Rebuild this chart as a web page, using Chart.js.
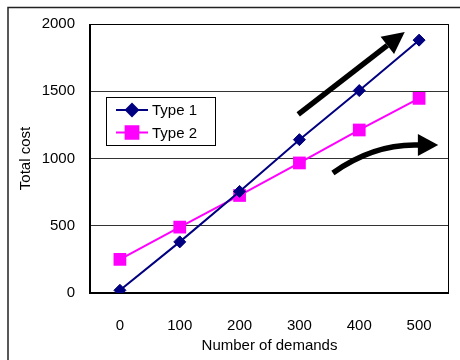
<!DOCTYPE html>
<html><head><meta charset="utf-8">
<script src="https://cdn.jsdelivr.net/npm/chart.js@4"></script>
<style>html,body{margin:0;padding:0;background:#fff;overflow:hidden}#wrap{position:relative;width:460px;height:360px}</style>
</head><body><div id="wrap"><canvas id="c" width="460" height="360"></canvas></div>
<script>
const categories = ['0','100','200','300','400','500'];
const type1 = [20, 380, 755, 1140, 1505, 1880];
const type2 = [250, 490, 725, 967, 1212, 1447];
const yTicks = [0, 500, 1000, 1500, 2000];
const seriesNames = ['Type 1', 'Type 2'];
// decorative arrows in (category index, value) space
const straightArrow = [[2.98, 1328], [4.76, 1941]];
const curvedArrow = [[3.56, 893], [4.26, 1114], [4.98, 1100], [5.32, 1100]];

const FONT = '"Liberation Sans", Arial, sans-serif';
const FS = 15;

const decor = {
  id: 'decor',
  beforeDraw(chart) {
    const ctx = chart.ctx;
    ctx.save();
    ctx.fillStyle = '#fff';
    ctx.fillRect(0, 0, chart.width, chart.height);
    ctx.strokeStyle = '#222';
    ctx.lineWidth = 1.5;
    ctx.beginPath();
    ctx.moveTo(8, 360); ctx.lineTo(8, 7.5); ctx.lineTo(460, 7.5);
    ctx.stroke();
    ctx.restore();
  },
  beforeDatasetsDraw(chart) {
    const {ctx, chartArea: a} = chart;
    ctx.save();
    ctx.strokeStyle = '#000';
    ctx.lineWidth = 1;
    ctx.beginPath();
    ctx.moveTo(a.left, a.top + 0.5); ctx.lineTo(a.right - 0.5, a.top + 0.5); ctx.lineTo(a.right - 0.5, a.bottom);
    ctx.stroke();
    ctx.lineWidth = 2;
    ctx.beginPath();
    ctx.moveTo(a.left, a.top); ctx.lineTo(a.left, a.bottom); ctx.lineTo(a.right, a.bottom);
    ctx.stroke();
    ctx.restore();
  },
  afterDraw(chart) {
    const {ctx, chartArea: a, scales} = chart;
    const px = p => [scales.x.getPixelForValue(p[0]), scales.y.getPixelForValue(p[1])];
    ctx.save();
    ctx.fillStyle = '#000';
    ctx.strokeStyle = '#000';
    ctx.lineWidth = 5.5;
    // straight arrow
    const [s0, s1] = straightArrow.map(px);
    const ang = Math.atan2(s1[1] - s0[1], s1[0] - s0[0]);
    const hl = 22, hw = 11;
    const bx = s1[0] - hl * Math.cos(ang), by = s1[1] - hl * Math.sin(ang);
    ctx.beginPath(); ctx.moveTo(s0[0], s0[1]); ctx.lineTo(bx, by); ctx.stroke();
    ctx.beginPath();
    ctx.moveTo(s1[0], s1[1]);
    ctx.lineTo(bx + hw * Math.sin(ang), by - hw * Math.cos(ang));
    ctx.lineTo(bx - hw * Math.sin(ang), by + hw * Math.cos(ang));
    ctx.closePath(); ctx.fill();
    // curved arrow
    const [c0, c1, c2, c3] = curvedArrow.map(px);
    ctx.beginPath(); ctx.moveTo(c0[0], c0[1]); ctx.quadraticCurveTo(c1[0], c1[1], c2[0] + 2, c2[1]); ctx.stroke();
    ctx.beginPath();
    ctx.moveTo(c3[0], c3[1]);
    ctx.lineTo(c2[0], c2[1] - 11);
    ctx.lineTo(c2[0], c2[1] + 11);
    ctx.closePath(); ctx.fill();

    // legend
    const lx = a.left + 16, ly = 97, lw = 109, lh = 48;
    ctx.fillStyle = '#fff';
    ctx.fillRect(lx, ly, lw, lh);
    ctx.lineWidth = 1;
    ctx.strokeStyle = '#000';
    ctx.strokeRect(lx + 0.5, ly + 0.5, lw, lh);
    chart.data.datasets.forEach((ds, i) => {
      const y = ly + 13 + i * 22.5;
      ctx.strokeStyle = ds.borderColor;
      ctx.lineWidth = 2;
      ctx.beginPath(); ctx.moveTo(lx + 10, y); ctx.lineTo(lx + 42, y); ctx.stroke();
      Chart.helpers.drawPoint(ctx, {pointStyle: ds.pointStyle, radius: ds.pointRadius, borderWidth: 1, rotation: 0}, lx + 26, y);
      ctx.fillStyle = ds.pointBackgroundColor;
      ctx.strokeStyle = ds.pointBorderColor;
      ctx.fill();
      ctx.fillStyle = '#000';
      ctx.font = FS + 'px ' + FONT;
      ctx.textBaseline = 'middle';
      ctx.textAlign = 'left';
      ctx.fillText(ds.label, lx + 46, y + 1);
    });
    ctx.restore();
  }
};

new Chart(document.getElementById('c'), {
  type: 'line',
  data: {
    labels: categories,
    datasets: [
      {label: seriesNames[0], data: type1, borderColor: '#000080', backgroundColor: '#000080',
       pointBackgroundColor: '#000080', pointBorderColor: '#000080', borderWidth: 2,
       pointStyle: 'rectRot', pointRadius: 6, pointBorderWidth: 1, order: 1},
      {label: seriesNames[1], data: type2, borderColor: '#FF00FF', backgroundColor: '#FF00FF',
       pointBackgroundColor: '#FF00FF', pointBorderColor: '#FF00FF', borderWidth: 2,
       pointStyle: 'rect', pointRadius: 9, pointBorderWidth: 0, order: 2}
    ]
  },
  options: {
    responsive: false,
    animation: false,
    layout: {padding: {left: 0, top: 22, right: 11, bottom: 0}},
    plugins: {legend: {display: false}, tooltip: {enabled: false}},
    scales: {
      x: {
        type: 'category', offset: true,
        grid: {display: false},
        border: {display: false},
        ticks: {color: '#000', padding: 16, font: {family: FONT, size: FS}, maxRotation: 0},
        title: {display: true, text: 'Number of demands', color: '#000', font: {family: FONT, size: FS}, padding: {top: 0, bottom: 5}},
        afterFit: s => { s.height = 67; }
      },
      y: {
        min: 0, max: 2000,
        afterBuildTicks: s => { s.ticks = yTicks.map(v => ({value: v})); },
        grid: {color: '#333', lineWidth: 1, drawTicks: false},
        border: {display: false},
        ticks: {color: '#000', padding: 15, font: {family: FONT, size: FS}, callback: v => String(v)},
        title: {display: true, text: 'Total cost', color: '#000', font: {family: FONT, size: FS}, padding: {top: 17, bottom: 0}},
        afterFit: s => { s.width = 90; }
      }
    }
  },
  plugins: [decor]
});
</script>
</body></html>
